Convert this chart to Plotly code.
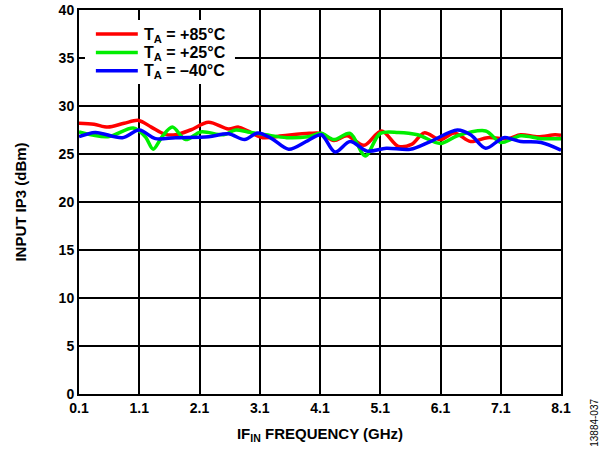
import plotly.graph_objects as go

freq_85 = [0.1, 0.35, 0.58, 0.85, 1.09, 1.3, 1.53, 1.7, 1.95, 2.25, 2.58, 2.75, 2.9, 3.15, 3.48, 3.92, 4.12, 4.33, 4.55, 4.83, 5.12, 5.4, 5.62, 5.83, 6.1, 6.33, 6.6, 6.88, 7.23, 7.43, 7.72, 8.0, 8.1]
ip3_85 = [28.2, 28.1, 27.8, 28.2, 28.5, 27.8, 27.05, 27.0, 27.5, 28.3, 27.6, 27.8, 27.4, 26.7, 26.9, 27.15, 27.15, 26.4, 26.9, 25.9, 27.4, 25.8, 26.0, 27.2, 26.5, 27.2, 26.3, 26.7, 26.6, 27.0, 26.8, 27.0, 26.95]

freq_25 = [0.1, 0.58, 1.0, 1.2, 1.33, 1.48, 1.65, 1.87, 2.12, 2.5, 2.7, 2.9, 3.2, 3.55, 3.9, 4.12, 4.33, 4.6, 4.85, 5.1, 5.4, 5.72, 6.1, 6.38, 6.85, 7.1, 7.43, 7.77, 8.1]
ip3_25 = [27.3, 26.8, 27.7, 26.8, 25.5, 26.8, 27.8, 26.5, 27.3, 27.0, 27.5, 27.3, 27.0, 26.7, 26.8, 27.15, 26.5, 27.15, 24.8, 27.15, 27.25, 27.0, 26.1, 26.9, 27.4, 26.2, 26.9, 26.6, 26.6]

freq_m40 = [0.1, 0.37, 0.82, 1.1, 1.37, 1.7, 2.25, 2.58, 2.85, 3.07, 3.3, 3.58, 3.9, 4.12, 4.35, 4.6, 4.88, 5.2, 5.6, 5.93, 6.38, 6.6, 6.85, 7.15, 7.43, 7.77, 8.1]
ip3_m40 = [26.8, 27.25, 26.7, 27.5, 26.6, 26.7, 26.8, 27.1, 26.5, 27.2, 26.6, 25.5, 26.4, 27.0, 25.2, 26.3, 25.3, 25.6, 25.5, 26.3, 27.5, 27.0, 25.6, 26.7, 26.3, 26.2, 25.4]

x_ticks = ["0.1", "1.1", "2.1", "3.1", "4.1", "5.1", "6.1", "7.1", "8.1"]
y_ticks = list(range(0, 41, 5))

series = [
    ("T<sub>A</sub> = +85°C", "#ff0000", freq_85, ip3_85),
    ("T<sub>A</sub> = +25°C", "#00ee00", freq_25, ip3_25),
    ("T<sub>A</sub> = –40°C", "#0000ff", freq_m40, ip3_m40),
]

font = "Liberation Sans, Arial, sans-serif"

fig = go.Figure()
for name, color, xs, ys in series:
    fig.add_trace(go.Scatter(x=xs, y=ys, mode="lines", name=name, showlegend=False,
                             line=dict(color=color, width=3.5, shape="spline", smoothing=0.9)))

axis_common = dict(showline=True, linecolor="black", linewidth=2, mirror=True,
                   showgrid=True, gridcolor="black", gridwidth=1.6, zeroline=False,
                   ticks="", automargin=False,
                   tickfont=dict(family=font, size=14, color="black"))

fig.update_xaxes(range=[0.1, 8.1], tickvals=[float(t) for t in x_ticks],
                 ticktext=["<b>%s</b>" % t for t in x_ticks],
                 title=dict(text="<b>IF<sub>IN</sub> FREQUENCY (GHz)</b>", font=dict(family=font, size=15, color="black"), standoff=14),
                 **axis_common)
fig.update_yaxes(range=[0, 40], tickvals=y_ticks,
                 ticktext=["<b>%d</b>" % v for v in y_ticks],
                 title=dict(text="<b>INPUT IP3 (dBm)</b>", font=dict(family=font, size=15, color="black"), standoff=28),
                 **axis_common)

# hand-drawn legend box (inside the plot, top-left)
shapes = [dict(type="rect", xref="paper", yref="paper", x0=0.0124, x1=0.3236, y0=0.807, y1=0.974,
               fillcolor="white", line=dict(width=0), layer="above")]
annotations = []
for i, (name, color, xs, ys) in enumerate(series):
    ly = 0.9375 - i * 0.048
    shapes.append(dict(type="line", xref="paper", yref="paper", x0=0.035, x1=0.122, y0=ly, y1=ly,
                       line=dict(color=color, width=3.5), layer="above"))
    annotations.append(dict(text="<b>%s</b>" % name, x=0.13, y=ly, xref="paper", yref="paper",
                            xanchor="left", yanchor="middle", yshift=-1, showarrow=False,
                            font=dict(family=font, size=16, color="black")))

annotations.append(dict(text="13884-037", x=1.0, y=-0.075, xref="paper", yref="paper",
                        xanchor="center", yanchor="middle", xshift=34,
                        textangle=-90, showarrow=False,
                        font=dict(family=font, size=10, color="black")))

fig.update_layout(
    width=600, height=449,
    margin=dict(l=79, r=39, t=10, b=55, autoexpand=False),
    plot_bgcolor="white", paper_bgcolor="white",
    font=dict(family=font, color="black"),
    shapes=shapes,
    annotations=annotations,
)

fig.write_html("out.html", config={"displayModeBar": False},
               post_script="document.body.style.margin='0';")
